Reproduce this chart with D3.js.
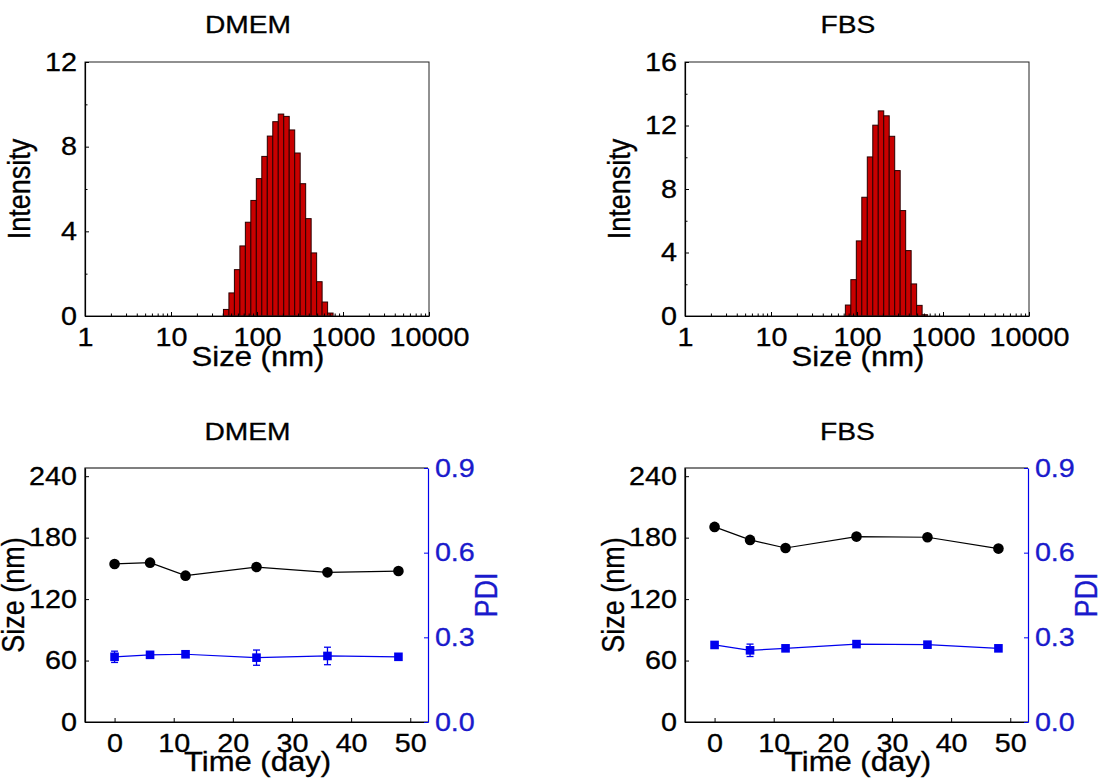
<!DOCTYPE html>
<html>
<head>
<meta charset="utf-8">
<script src="https://cdn.jsdelivr.net/npm/d3@7"></script>
<style>
  html, body { margin: 0; padding: 0; background: #fff; }
  svg { display: block; font-family: "Liberation Sans", Arial, sans-serif; }
</style>
</head>
<body>
<svg id="chart" width="1102" height="784"></svg>
<script>
// ---------------- data ----------------
const DMEM_SIZES = [43.82, 50.75, 58.77, 68.06, 78.82, 91.28, 105.7, 122.4, 141.8, 164.2, 190.1, 220.2, 255.0, 295.3, 342.0, 396.1, 458.7, 531.2, 615.1, 712.4];
const DMEM_INTENSITY = [0.31, 1.09, 2.19, 3.31, 4.43, 5.46, 6.49, 7.54, 8.50, 9.18, 9.54, 9.43, 8.79, 7.70, 6.25, 4.60, 2.98, 1.62, 0.66, 0.14];
const FBS_SIZES = [78.82, 91.28, 105.7, 122.4, 141.8, 164.2, 190.1, 220.2, 255.0, 295.3, 342.0, 396.1, 458.7, 531.2, 615.1];
const FBS_INTENSITY = [0.69, 2.29, 4.73, 7.48, 10.02, 12.02, 12.92, 12.61, 11.32, 9.16, 6.64, 4.12, 2.02, 0.67, 0.08];

const TIME_DAYS = [0, 6, 12, 24, 36, 48];
const DMEM_SIZE_NM = [154.3, 155.6, 142.9, 151.3, 146.1, 147.4];
const DMEM_PDI = [0.231, 0.238, 0.240, 0.228, 0.234, 0.231];
const DMEM_PDI_ERR = [0.020, 0.005, 0.005, 0.027, 0.031, 0.005];
const FBS_SIZE_NM = [190.5, 177.8, 169.9, 181.0, 180.4, 169.3];
const FBS_PDI = [0.273, 0.254, 0.261, 0.276, 0.274, 0.261];
const FBS_PDI_ERR = [0.005, 0.022, 0.008, 0.005, 0.005, 0.010];

const LOG_TICKS = [1, 10, 100, 1000, 10000];
const DMEM_INT_TICKS = [0, 4, 8, 12];
const FBS_INT_TICKS = [0, 4, 8, 12, 16];
const TIME_TICKS = [0, 10, 20, 30, 40, 50];
const SIZE_TICKS = [0, 60, 120, 180, 240];
const PDI_TICKS = [0.0, 0.3, 0.6, 0.9];

// ---------------- styling ----------------
const SX = 1.15;           // horizontal stretch of the original figure text
const BLUE = "#0000ee";
const BLUE_TXT = "#1a1acc";
const TICK_FS = 25, TITLE_FS = 24.5, LABEL_FS = 27;

const svg = d3.select("#chart");

function txt(g, x, y, s, opt = {}) {
  const col = opt.fill || "#000";
  const t = g.append("text")
    .attr("transform", `translate(${x},${y}) scale(${SX},1)` + (opt.rotate ? ` rotate(${opt.rotate})` : ""))
    .attr("text-anchor", opt.anchor || "middle")
    .attr("font-size", opt.size || LABEL_FS)
    .attr("fill", col)
    .attr("stroke", col).attr("stroke-width", 0.3)
    .text(s);
  if (opt.dy) t.attr("dy", opt.dy);
  return t;
}

function styleAxis(g, color, fs) {
  const tc = color === "#000" ? "#000" : BLUE_TXT;
  g.selectAll("path.domain").attr("stroke", color).attr("stroke-width", 1.2);
  g.selectAll(".tick line").attr("stroke", color).attr("stroke-width", 1);
  g.selectAll(".tick text")
    .attr("font-size", fs)
    .attr("fill", tc)
    .attr("stroke", tc).attr("stroke-width", 0.3)
    .attr("font-family", "Liberation Sans, Arial, sans-serif")
    .attr("transform", `scale(${SX},1)`);
}

// ---------------- histogram panels ----------------
function histPanel(L, T, R, B, title, sizes, inten, yMax, yTicks) {
  const g = svg.append("g");
  const x = d3.scaleLog().domain([1, 10000]).range([L, R]);
  const y = d3.scaleLinear().domain([0, yMax]).range([B, T]);
  const ratio = Math.sqrt(sizes[1] / sizes[0]);

  // bars
  g.append("g").selectAll("rect").data(sizes).join("rect")
    .attr("x", d => x(d / ratio))
    .attr("width", d => x(d * ratio) - x(d / ratio))
    .attr("y", (d, i) => y(inten[i]))
    .attr("height", (d, i) => B - y(inten[i]))
    .attr("fill", "#c80000")
    .attr("stroke", "#2a0000")
    .attr("stroke-width", 1);

  // frame
  g.append("rect").attr("x", L).attr("y", T).attr("width", R - L).attr("height", B - T)
    .attr("fill", "none").attr("stroke", "#222").attr("stroke-width", 1);

  // x axis (log), inside ticks
  const minor = [];
  for (let dec = 1; dec < 10000; dec *= 10) for (let k = 2; k <= 9; k++) minor.push(dec * k);
  const xa = g.append("g").attr("transform", `translate(0,${B})`)
    .call(d3.axisBottom(x).tickValues(LOG_TICKS).tickFormat(d3.format("d")).tickSizeInner(-4).tickSizeOuter(0).tickPadding(8));
  styleAxis(xa, "#000", TICK_FS);
  xa.selectAll(".tick text").attr("dy", "0.9em");
  const xm = g.append("g").attr("transform", `translate(0,${B})`)
    .call(d3.axisBottom(x).tickValues(minor).tickFormat("").tickSizeInner(-2.5).tickSizeOuter(0));
  styleAxis(xm, "#000", TICK_FS);
  xm.select("path.domain").remove();

  // y axis
  const ya = g.append("g").attr("transform", `translate(${L},0)`)
    .call(d3.axisLeft(y).tickValues(yTicks).tickSizeInner(-4).tickSizeOuter(0).tickPadding(7));
  styleAxis(ya, "#000", TICK_FS);
  const yMinor = yTicks.slice(0, -1).map((v, i) => (v + yTicks[i + 1]) / 2);
  const ym = g.append("g").attr("transform", `translate(${L},0)`)
    .call(d3.axisLeft(y).tickValues(yMinor).tickFormat("").tickSizeInner(-2.5).tickSizeOuter(0));
  styleAxis(ym, "#000", TICK_FS);
  ym.select("path.domain").remove();

  txt(g, (L + R) / 2 - 9, T - 29, title, { size: TITLE_FS });
  txt(g, (L + R) / 2 + 1, B + 50, "Size (nm)", { size: LABEL_FS });
  txt(g, L - 55, (T + B) / 2, "Intensity", { size: LABEL_FS, rotate: -90 });
}

// ---------------- stability panels ----------------
function timePanel(L, T, R, B, title, sizeVals, pdiVals, pdiErr) {
  const g = svg.append("g");
  const x = d3.scaleLinear().domain([-5, 53]).range([L, R]);
  const yL = d3.scaleLinear().domain([0, 248]).range([B, T]);
  const yR = d3.scaleLinear().domain([0, 0.9]).range([B, T]);

  // frame top + left + bottom in black
  g.append("path").attr("d", `M${R},${T}H${L}V${B}H${R}`).attr("fill", "none")
    .attr("stroke", "#000").attr("stroke-width", 1.2);

  const xa = g.append("g").attr("transform", `translate(0,${B})`)
    .call(d3.axisBottom(x).tickValues(TIME_TICKS).tickSizeInner(-4).tickSizeOuter(0).tickPadding(8));
  styleAxis(xa, "#000", TICK_FS);
  xa.selectAll(".tick text").attr("dy", "0.9em");

  const ya = g.append("g").attr("transform", `translate(${L},0)`)
    .call(d3.axisLeft(yL).tickValues(SIZE_TICKS).tickSizeInner(-4).tickSizeOuter(0).tickPadding(7));
  styleAxis(ya, "#000", TICK_FS);

  const yr = g.append("g").attr("transform", `translate(${R},0)`)
    .call(d3.axisRight(yR).tickValues(PDI_TICKS).tickFormat(d3.format(".1f")).tickSizeInner(-4).tickSizeOuter(0).tickPadding(6));
  styleAxis(yr, BLUE, TICK_FS);

  // size series (black circles)
  const sizeLine = d3.line().x((d, i) => x(TIME_DAYS[i])).y(d => yL(d));
  g.append("path").attr("d", sizeLine(sizeVals)).attr("fill", "none").attr("stroke", "#000").attr("stroke-width", 1.2);
  g.append("g").selectAll("circle").data(sizeVals).join("circle")
    .attr("cx", (d, i) => x(TIME_DAYS[i])).attr("cy", d => yL(d)).attr("r", 5.3).attr("fill", "#000");

  // PDI series (blue squares with error bars)
  const pdiLine = d3.line().x((d, i) => x(TIME_DAYS[i])).y(d => yR(d));
  g.append("path").attr("d", pdiLine(pdiVals)).attr("fill", "none").attr("stroke", BLUE).attr("stroke-width", 1.2);
  const eb = g.append("g").attr("stroke", BLUE).attr("stroke-width", 1.3);
  pdiVals.forEach((v, i) => {
    const cx = x(TIME_DAYS[i]);
    const y1 = yR(v + pdiErr[i]), y2 = yR(v - pdiErr[i]);
    eb.append("line").attr("x1", cx).attr("x2", cx).attr("y1", y1).attr("y2", y2);
    eb.append("line").attr("x1", cx - 3.5).attr("x2", cx + 3.5).attr("y1", y1).attr("y2", y1);
    eb.append("line").attr("x1", cx - 3.5).attr("x2", cx + 3.5).attr("y1", y2).attr("y2", y2);
  });
  g.append("g").selectAll("rect").data(pdiVals).join("rect")
    .attr("x", (d, i) => x(TIME_DAYS[i]) - 4.3).attr("y", d => yR(d) - 4.3)
    .attr("width", 8.6).attr("height", 8.6).attr("fill", BLUE);

  txt(g, (L + R) / 2 - 9, T - 28, title, { size: TITLE_FS });
  txt(g, (L + R) / 2 + 1, B + 49, "Time (day)", { size: LABEL_FS });
  txt(g, L - 61, (T + B) / 2, "Size (nm)", { size: LABEL_FS, rotate: -90 });
  txt(g, R + 69, (T + B) / 2, "PDI", { size: LABEL_FS, rotate: -90, fill: BLUE_TXT });
}

histPanel(85, 62, 429, 316, "DMEM", DMEM_SIZES, DMEM_INTENSITY, 12, DMEM_INT_TICKS);
histPanel(685, 62, 1029, 316, "FBS", FBS_SIZES, FBS_INTENSITY, 16, FBS_INT_TICKS);
timePanel(85, 468, 428, 722, "DMEM", DMEM_SIZE_NM, DMEM_PDI, DMEM_PDI_ERR);
timePanel(685, 468, 1028, 722, "FBS", FBS_SIZE_NM, FBS_PDI, FBS_PDI_ERR);
</script>
</body>
</html>
